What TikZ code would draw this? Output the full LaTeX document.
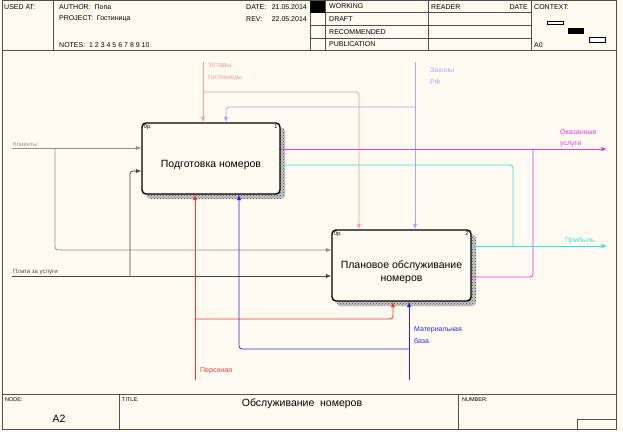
\documentclass[tikz,border=0pt]{standalone}
\usepackage{fontspec}
\setmainfont{Liberation Sans}
\usetikzlibrary{arrows.meta,patterns}
\definecolor{paper}{HTML}{FFFBF0}
\definecolor{frameclr}{HTML}{505050}
\definecolor{ustavclr}{HTML}{F0A0A0}
\definecolor{zakonclr}{HTML}{A8A8F0}
\definecolor{klientclr}{HTML}{909090}
\definecolor{plataclr}{HTML}{484848}
\definecolor{persclr}{HTML}{F03838}
\definecolor{bazaclr}{HTML}{2828D8}
\definecolor{uslugclr}{HTML}{E838E8}
\definecolor{pribclr}{HTML}{38E0E0}
\begin{document}
\begin{tikzpicture}[x=1pt,y=-1pt,
    hdr/.style={anchor=west,inner sep=0pt,font=\fontsize{7}{8}\selectfont},
    tiny/.style={anchor=west,inner sep=0pt,font=\fontsize{5.5}{6}\selectfont},
    lbl/.style={anchor=north west,inner sep=0pt,align=left,font=\fontsize{7}{12}\selectfont},
    side/.style={anchor=west,inner sep=0pt,font=\fontsize{6}{7}\selectfont},
    act/.style={draw=black,line width=1.4pt,rounded corners=4pt,fill=paper,minimum width=138pt,minimum height=71pt,inner sep=0pt},
    acttext/.style={align=center,inner sep=0pt,font=\fontsize{10.5}{13}\selectfont},
    shade/.style={preaction={fill=gray!45},pattern=crosshatch dots,pattern color=black!70,rounded corners=4pt},
    arr/.style={line width=.8pt,rounded corners=3pt,-{Latex[length=5.5pt,width=4.5pt]}},
    ln/.style={line width=.8pt,rounded corners=3pt}]
    \fill[paper] (0,0) rectangle (623,431);
    \useasboundingbox (0,0) rectangle (623,431);
    \draw[frameclr,line width=.8pt] (2,.5) rectangle (616,429);
    \draw[frameclr,line width=.8pt] (2,50) -- (616,50);
    \draw[frameclr,line width=.8pt] (2,394) -- (616,394);
    \foreach \x in {53,310,325,428,531}
    \draw[frameclr,line width=.8pt] (\x,.5) -- (\x,50);
    \foreach \y in {12.5,25.5,38.5}
    \draw[frameclr,line width=.6pt] (310,\y) -- (531,\y);
    \fill[black] (310,.5) rectangle (325,12.5);
    \foreach \x in {119,458}
    \draw[frameclr,line width=.8pt] (\x,394) -- (\x,429);
    \draw[frameclr,line width=.8pt] (577,419) rectangle (616,429);
    \node[hdr] (usedat) at (4,7) {USED AT:};
    \node[hdr] (author) at (59,7) {AUTHOR:\ \ Попа};
    \node[hdr] (project) at (59,19) {PROJECT:\ \ Гостиница};
    \node[hdr] (notes) at (59,45) {NOTES:\ \ 1\ 2\ 3\ 4\ 5\ 6\ 7\ 8\ 9\ 10};
    \node[hdr] (date) at (246,7) {DATE:};
    \node[hdr,anchor=east] (dateval) at (307,7) {21.05.2014};
    \node[hdr] (rev) at (246,19) {REV:};
    \node[hdr,anchor=east] (revval) at (307,19) {22.05.2014};
    \foreach \t [count=\i] in {WORKING,DRAFT,RECOMMENDED,PUBLICATION}
    \node[hdr] (st\i) at (329,{6+12.8*(\i-1)}) {\t};
    \node[hdr] (reader) at (431,7) {READER};
    \node[hdr,anchor=east] (rdate) at (528,7) {DATE};
    \node[hdr] (context) at (534,7) {CONTEXT:};
    \node[hdr] (azero) at (534,45) {A0};
    \draw[black,line width=.5pt,fill=white] (547,21) rectangle (563,24.5);
    \draw[black,line width=.5pt,fill=black] (568,28) rectangle (583,33);
    \draw[black,line width=.5pt,fill=white] (589,37) rectangle (605,42);
    \node[tiny] (nodelbl) at (5,400) {NODE:};
    \node[tiny] (titlelbl) at (122,400) {TITLE:};
    \node[tiny] (numberlbl) at (462,400) {NUMBER:};
    \node[acttext] (nodeval) at (59,419) {A2};
    \node[acttext] (titleval) at (302,404) {Обслуживание\ \ номеров};
    \fill[shade] (146.5,127.5) rectangle (285,199);
    \fill[shade] (336.5,234.5) rectangle (476,306);
    \node[act] (box1) at (211,158.5) {};
    \node[act,minimum width=139pt] (box2) at (401.5,265.5) {};
    \node[acttext] (box1text) at (211,165) {Подготовка номеров};
    \node[acttext] (box2text) at (401.5,272.5) {Плановое обслуживание\\номеров};
    \node[tiny,anchor=north west] (box1op) at ([shift={(2.5,2.5)}]box1.north west) {0р.};
    \node[tiny,anchor=north east] (box1no) at ([shift={(-3,2.5)}]box1.north east) {1};
    \node[tiny,anchor=north west] (box2op) at ([shift={(2.5,2.5)}]box2.north west) {0р.};
    \node[tiny,anchor=north east] (box2no) at ([shift={(-3,2.5)}]box2.north east) {2};
    \coordinate (ustav) at (203,62);
    \coordinate (ustavB) at (203,92);
    \coordinate (ustavC) at (359,92);
    \draw[arr,ustavclr] (ustav) -- (ustav |- box1.north);
    \draw[arr,ustavclr] (ustavB) -- (ustavC) -- (ustavC |- box2.north);
    \coordinate (zakon) at (415,62);
    \coordinate (zakonB) at (415,107);
    \coordinate (zakonC) at (226,107);
    \draw[arr,zakonclr] (zakon) -- (zakon |- box2.north);
    \draw[arr,zakonclr] (zakonB) -- (zakonC) -- (zakonC |- box1.north);
    \coordinate (klient) at (12,148);
    \coordinate (klientB) at (55,148);
    \coordinate (klientC) at (55,250);
    \draw[arr,klientclr] (klient) -- (klient -| box1.west);
    \draw[arr,klientclr] (klientB) -- (klientC) -- (klientC -| box2.west);
    \coordinate (plata) at (12,276);
    \coordinate (plataB) at (130,276);
    \coordinate (plataC) at (130,171);
    \draw[arr,plataclr] (plata) -- (plata -| box2.west);
    \draw[arr,plataclr] (plataB) -- (plataC) -- (plataC -| box1.west);
    \coordinate (pers) at (195,380);
    \coordinate (persB) at (195,319);
    \coordinate (persC) at (393,319);
    \draw[arr,persclr] (pers) -- (pers |- box1.south);
    \draw[arr,persclr] (persB) -- (persC) -- (persC |- box2.south);
    \coordinate (baza) at (409,380);
    \coordinate (bazaB) at (409,349);
    \coordinate (bazaC) at (239,349);
    \draw[arr,bazaclr] (baza) -- (baza |- box2.south);
    \draw[arr,bazaclr] (bazaB) -- (bazaC) -- (bazaC |- box1.south);
    \coordinate (uslug) at (607,149);
    \coordinate (uslugB) at (533,277);
    \draw[arr,uslugclr] (uslug -| box1.east) -- (uslug);
    \draw[ln,uslugclr] (uslugB -| box2.east) -- (uslugB) -- (uslugB |- uslug);
    \coordinate (prib) at (607,246);
    \coordinate (pribB) at (513,165);
    \draw[arr,pribclr] (prib -| box2.east) -- (prib);
    \draw[ln,pribclr] (pribB -| box1.east) -- (pribB) -- (pribB |- prib);
    \node[lbl,text=ustavclr] (ustavlbl) at (208,62) {Уставы\\гостиницы};
    \node[lbl,text=zakonclr] (zakonlbl) at (430,67) {Законы\\РФ};
    \node[side,text=klientclr] (klientlbl) at (13,144) {Клиенты};
    \node[side,text=plataclr] (platalbl) at (13,272.5) {Плата за услуги};
    \node[hdr,text=persclr] (perslbl) at (200,371) {Персонал};
    \node[lbl,text=bazaclr] (bazalbl) at (414,326) {Материальная\\база};
    \node[lbl,text=uslugclr,font=\fontsize{7}{11}\selectfont] (usluglbl) at (560,129) {Оказанные\\услуги};
    \node[hdr,text=pribclr] (priblbl) at (565,241) {Прибыль};
  \end{tikzpicture}
\end{document}
